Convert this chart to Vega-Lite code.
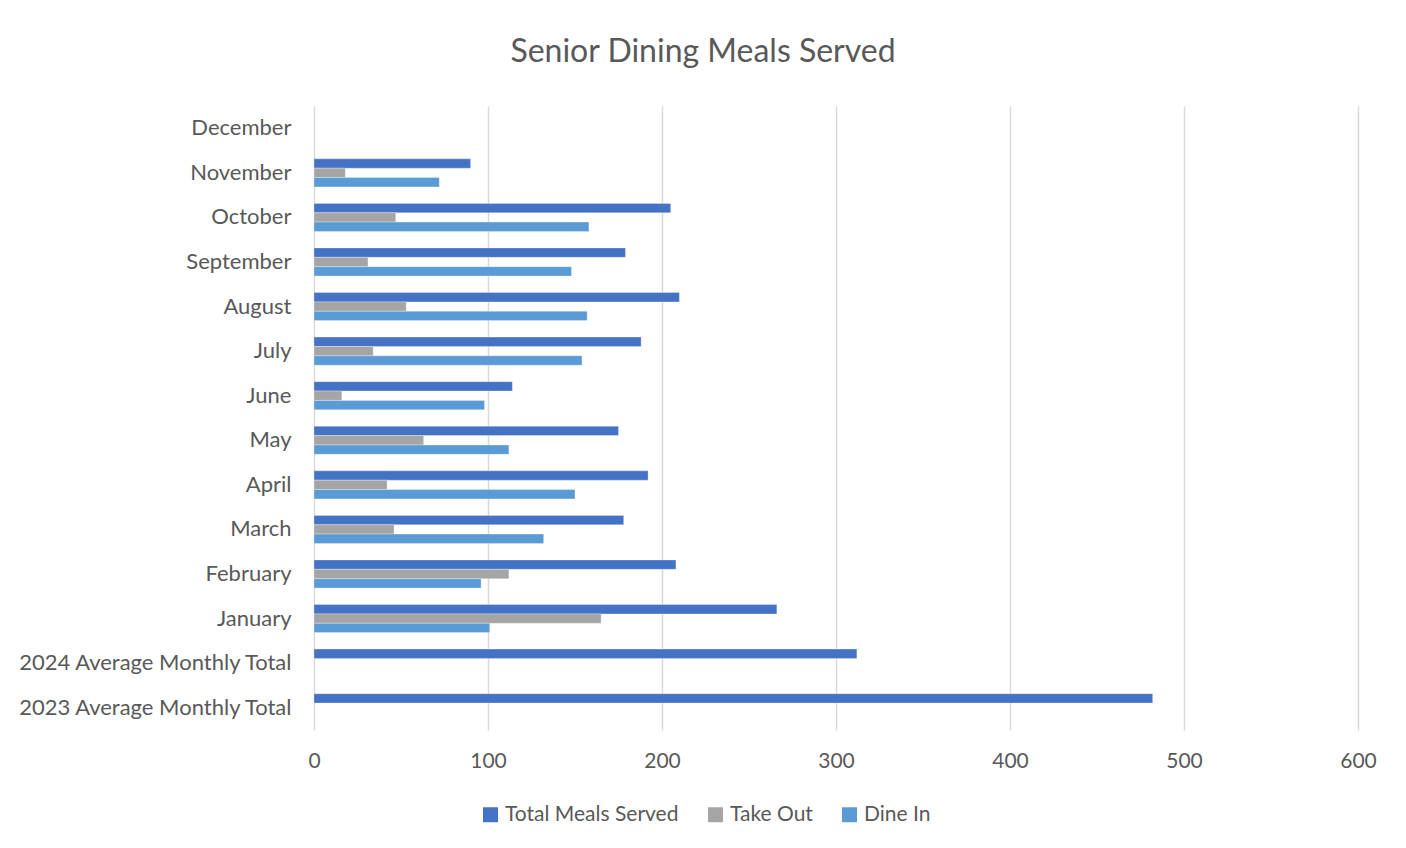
{
  "$schema": "https://vega.github.io/schema/vega-lite/v6.json",
  "width": 1044,
  "height": 624,
  "autosize": {"type": "none"},
  "padding": {"left": 314, "top": 106, "right": 48, "bottom": 118},
  "background": "white",
  "title": {
    "text": "Senior Dining Meals Served",
    "fontSize": 32,
    "font": "Lato",
    "fontWeight": "normal",
    "color": "#595959",
    "anchor": "middle",
    "frame": "group",
    "dx": -133,
    "offset": 37
  },
  "data": {
    "values": [
      {"month": "November", "series": "Total Meals Served", "value": 90},
      {"month": "November", "series": "Take Out", "value": 18},
      {"month": "November", "series": "Dine In", "value": 72},
      {"month": "October", "series": "Total Meals Served", "value": 205},
      {"month": "October", "series": "Take Out", "value": 47},
      {"month": "October", "series": "Dine In", "value": 158},
      {"month": "September", "series": "Total Meals Served", "value": 179},
      {"month": "September", "series": "Take Out", "value": 31},
      {"month": "September", "series": "Dine In", "value": 148},
      {"month": "August", "series": "Total Meals Served", "value": 210},
      {"month": "August", "series": "Take Out", "value": 53},
      {"month": "August", "series": "Dine In", "value": 157},
      {"month": "July", "series": "Total Meals Served", "value": 188},
      {"month": "July", "series": "Take Out", "value": 34},
      {"month": "July", "series": "Dine In", "value": 154},
      {"month": "June", "series": "Total Meals Served", "value": 114},
      {"month": "June", "series": "Take Out", "value": 16},
      {"month": "June", "series": "Dine In", "value": 98},
      {"month": "May", "series": "Total Meals Served", "value": 175},
      {"month": "May", "series": "Take Out", "value": 63},
      {"month": "May", "series": "Dine In", "value": 112},
      {"month": "April", "series": "Total Meals Served", "value": 192},
      {"month": "April", "series": "Take Out", "value": 42},
      {"month": "April", "series": "Dine In", "value": 150},
      {"month": "March", "series": "Total Meals Served", "value": 178},
      {"month": "March", "series": "Take Out", "value": 46},
      {"month": "March", "series": "Dine In", "value": 132},
      {"month": "February", "series": "Total Meals Served", "value": 208},
      {"month": "February", "series": "Take Out", "value": 112},
      {"month": "February", "series": "Dine In", "value": 96},
      {"month": "January", "series": "Total Meals Served", "value": 266},
      {"month": "January", "series": "Take Out", "value": 165},
      {"month": "January", "series": "Dine In", "value": 101},
      {"month": "2024 Average Monthly Total", "series": "Total Meals Served", "value": 312},
      {"month": "2023 Average Monthly Total", "series": "Total Meals Served", "value": 482}
    ]
  },
  "mark": {"type": "bar", "stroke": "white", "strokeWidth": 0.6, "strokeOpacity": 0.5},
  "encoding": {
    "y": {
      "field": "month",
      "type": "nominal",
      "scale": {
        "domain": ["December", "November", "October", "September", "August", "July", "June", "May", "April", "March", "February", "January", "2024 Average Monthly Total", "2023 Average Monthly Total"],
        "paddingInner": 0.37,
        "paddingOuter": 0.185
      },
      "axis": {
        "title": null,
        "domain": false,
        "ticks": false,
        "labelFontSize": 22,
        "labelFont": "Lato",
        "labelColor": "#595959",
        "labelPadding": 23,
        "labelLimit": 400
      }
    },
    "yOffset": {
      "field": "series",
      "type": "nominal",
      "scale": {"domain": ["Total Meals Served", "Take Out", "Dine In"], "paddingInner": 0, "paddingOuter": 0}
    },
    "x": {
      "field": "value",
      "type": "quantitative",
      "scale": {"domain": [0, 600], "nice": false},
      "axis": {
        "title": null,
        "values": [0, 100, 200, 300, 400, 500, 600],
        "domain": false,
        "ticks": false,
        "grid": true,
        "gridColor": "#D9D9D9",
        "gridWidth": 1.5,
        "labelFontSize": 21,
        "labelFont": "Lato",
        "labelColor": "#595959",
        "labelPadding": 20,
        "labelFlush": false,
        "labelOverlap": false,
        "labelBound": false
      }
    },
    "color": {
      "field": "series",
      "type": "nominal",
      "scale": {"domain": ["Total Meals Served", "Take Out", "Dine In"], "range": ["#4472C4", "#A5A5A5", "#5B9BD5"]},
      "legend": {
        "title": null,
        "orient": "none",
        "direction": "horizontal",
        "legendX": 166,
        "legendY": 698,
        "symbolType": "square",
        "symbolSize": 225,
        "symbolStrokeWidth": 0,
        "labelFontSize": 21,
        "labelFont": "Lato",
        "labelColor": "#595959",
        "labelOffset": 4,
        "labelLimit": 400,
        "columnPadding": 26
      }
    }
  },
  "config": {"view": {"stroke": null}}
}
